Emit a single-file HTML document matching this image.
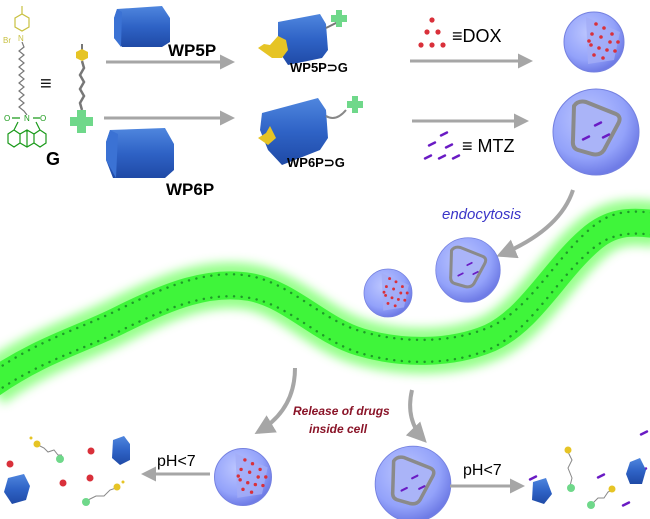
<!DOCTYPE html>
<html><head><meta charset="utf-8"><style>
html,body{margin:0;padding:0;background:#fff;}
svg{display:block;font-family:"Liberation Sans",Arial,sans-serif;}
</style></head><body>
<svg width="650" height="519" viewBox="0 0 650 519" xmlns="http://www.w3.org/2000/svg">
<defs>
<radialGradient id="sph" cx="40%" cy="35%" r="65%">
<stop offset="0" stop-color="#bcc6ff"/><stop offset="0.7" stop-color="#93a2fa"/><stop offset="1" stop-color="#6f7ce6"/>
</radialGradient>
<linearGradient id="cyl" x1="0" y1="0" x2="0" y2="1">
<stop offset="0" stop-color="#4f86de"/><stop offset="0.5" stop-color="#2f63c6"/><stop offset="1" stop-color="#1f4aa6"/>
</linearGradient>
<filter id="glow" x="-10%" y="-30%" width="120%" height="160%"><feGaussianBlur stdDeviation="5"/></filter>
<marker id="ah" viewBox="0 0 10 10" refX="8" refY="5" markerWidth="5" markerHeight="5" orient="auto"><path d="M0,0 L10,5 L0,10 z" fill="#a6a6a6"/></marker>
<g id="dox"><circle cx="0" cy="0" r="1.8" fill="#d9303a"/></g>
<g id="mtz"><line x1="-3" y1="1.5" x2="3" y2="-1.5" stroke="#6a1bc4" stroke-width="2.4" stroke-linecap="round"/></g>
<g id="doxsph">
<circle r="30" fill="url(#sph)" stroke="#7480e0" stroke-width="1"/>
<path d="M-8,-25 L26,-10 L20,18 L-6,22 Z" fill="#a3adf6" opacity="0.8"/>
<use href="#dox" x="2" y="-18"/><use href="#dox" x="10" y="-14"/><use href="#dox" x="18" y="-8"/><use href="#dox" x="-2" y="-8"/><use href="#dox" x="7" y="-5"/><use href="#dox" x="16" y="0"/><use href="#dox" x="24" y="0"/><use href="#dox" x="-3" y="3"/><use href="#dox" x="5" y="6"/><use href="#dox" x="13" y="8"/><use href="#dox" x="21" y="9"/><use href="#dox" x="0" y="13"/><use href="#dox" x="9" y="16"/><use href="#dox" x="-5" y="-1"/>
</g>
<g id="mtzsph">
<circle r="43" fill="url(#sph)" stroke="#7480e0" stroke-width="1"/>
<path d="M-22,-26 Q-18,-32 -10,-30 L20,-18 Q26,-15 22,-8 L8,18 Q4,24 -4,22 L-18,18 Q-24,16 -23,8 Z" fill="#aab4f8" stroke="#8a8a8a" stroke-width="4" stroke-linejoin="round"/>
<use href="#mtz" x="2" y="-8"/><use href="#mtz" x="-10" y="6"/><use href="#mtz" x="10" y="4"/>
</g>
</defs>

<!-- membrane -->
<g fill="none">
<path d="M-10,385 C40,350 80,340 120,320 C170,295 210,280 250,287 C290,294 320,330 360,342 C400,354 450,355 490,338 C530,320 555,270 590,240 C610,222 630,220 660,225" stroke="#7dff6e" stroke-width="46" filter="url(#glow)" opacity="0.8"/>
<path d="M-10,385 C40,350 80,340 120,320 C170,295 210,280 250,287 C290,294 320,330 360,342 C400,354 450,355 490,338 C530,320 555,270 590,240 C610,222 630,220 660,225" stroke="#3ff53a" stroke-width="28"/>
<path d="M-10,374 C40,339 80,329 120,309 C170,284 210,269 250,276 C290,283 320,319 360,331 C400,343 450,344 490,327 C530,309 555,259 590,229 C610,211 630,209 660,214" stroke="#1e9a28" stroke-width="2.4" stroke-linecap="round" stroke-dasharray="0.1 7.5"/>
<path d="M-10,396 C40,361 80,351 120,331 C170,306 210,291 250,298 C290,305 320,341 360,353 C400,365 450,366 490,349 C530,331 555,281 590,251 C610,233 630,231 660,236" stroke="#1e9a28" stroke-width="2.4" stroke-linecap="round" stroke-dasharray="0.1 7.5"/>
</g>

<!-- molecule G -->
<g fill="none" stroke-width="1.2">
<path d="M22,6 L22,14 M15,18 L22,14 L29,18 L29,27 L22,31 L15,27 Z" stroke="#c8c040"/>
<text x="3" y="43" font-size="8" fill="#c8c040" stroke="none">Br</text>
<text x="18" y="41" font-size="8" fill="#c8c040" stroke="none">N</text>
<path d="M22,42 L24,47 L19,51 L24,55 L19,59 L24,63 L19,67 L24,71 L19,75 L24,79 L19,83 L24,87 L19,91 L24,95 L19,99 L24,103 L19,107 L24,111 L27,115" stroke="#777"/>
<text x="24" y="121" font-size="8" fill="#1a9a1a" stroke="none">N</text>
<text x="4" y="121" font-size="8" fill="#1a9a1a" stroke="none">O</text>
<text x="40" y="121" font-size="8" fill="#1a9a1a" stroke="none">O</text>
<path d="M12,118 L20,118 M33,118 L40,118 M18,122 L14,130 L8,134 L8,143 L14,147 L20,143 L27,147 L34,143 L40,147 L46,143 L46,134 L40,130 L36,122 M14,130 L20,134 L27,130 L34,134 L40,130 M20,134 L20,143 M34,134 L34,143 M27,130 L27,147" stroke="#1a9a1a"/>
</g>
<text x="46" y="165" font-size="18" font-weight="bold" fill="#000">G</text>
<text x="40" y="90" font-size="20" fill="#111">≡</text>
<!-- cartoon G -->
<path d="M82,44 L82,50" stroke="#777" stroke-width="2"/>
<polygon points="76,52 82,49 88,52 88,58 82,61 76,58" fill="#e6c425"/>
<path d="M82,61 L84,68 L80,75 L84,82 L80,89 L84,96 L80,103 L82,110" fill="none" stroke="#777" stroke-width="2.5"/>
<path d="M77,110 h9 v7 h7 v9 h-7 v7 h-9 v-7 h-7 v-9 h7z" fill="#6fd88a"/>

<!-- arrows top -->
<line x1="106" y1="62" x2="232" y2="62" stroke="#a6a6a6" stroke-width="3" marker-end="url(#ah)"/>
<line x1="104" y1="118" x2="232" y2="118" stroke="#a6a6a6" stroke-width="3" marker-end="url(#ah)"/>
<line x1="410" y1="61" x2="530" y2="61" stroke="#a6a6a6" stroke-width="3" marker-end="url(#ah)"/>
<line x1="412" y1="121" x2="526" y2="121" stroke="#a6a6a6" stroke-width="3" marker-end="url(#ah)"/>

<!-- WP5P cylinder -->
<polygon points="117,9 162,6 170,18 170,42 162,47 122,47 114,38 114,18" fill="url(#cyl)"/>
<polygon points="114,18 117,9 122,12 121,47 114,38" fill="#3b72d4"/>
<text x="168" y="56" font-size="17" font-weight="bold">WP5P</text>
<!-- WP6P cylinder -->
<polygon points="110,130 165,128 174,144 174,170 165,178 113,178 106,160 106,142" fill="url(#cyl)"/>
<polygon points="106,142 110,130 118,134 116,178 106,160" fill="#3b72d4"/>
<text x="166" y="195" font-size="17" font-weight="bold">WP6P</text>

<!-- WP5P⊃G -->
<polygon points="278,22 320,14 326,24 328,50 322,58 288,65 282,56 278,38" fill="url(#cyl)"/>
<polygon points="258,48 264,44 270,45 278,36 286,40 288,50 282,58 272,58" fill="#e6c425"/>
<path d="M326,28 L338,22" stroke="#777" stroke-width="2"/>
<path d="M336,10 h6 v5 h5 v7 h-5 v5 h-6 v-5 h-5 v-7 h5z" fill="#6fd88a"/>
<text x="290" y="72" font-size="13" font-weight="bold">WP5P⊃G</text>
<!-- WP6P⊃G -->
<polygon points="262,113 318,98 326,110 328,138 320,150 282,165 268,150 260,130" fill="url(#cyl)"/>
<polygon points="258,138 266,133 270,126 276,138 268,145" fill="#e6c425"/>
<path d="M326,116 Q336,122 346,110" fill="none" stroke="#888" stroke-width="2"/>
<path d="M352,96 h6 v5 h5 v7 h-5 v5 h-6 v-5 h-5 v-7 h5z" fill="#6fd88a"/>
<text x="287" y="167" font-size="13" font-weight="bold">WP6P⊃G</text>

<!-- DOX / MTZ legend -->
<circle cx="432" cy="20" r="2.6" fill="#d9303a"/>
<circle cx="427" cy="32" r="2.6" fill="#d9303a"/><circle cx="438" cy="32" r="2.6" fill="#d9303a"/>
<circle cx="421" cy="45" r="2.6" fill="#d9303a"/><circle cx="432" cy="45" r="2.6" fill="#d9303a"/><circle cx="443" cy="45" r="2.6" fill="#d9303a"/>
<text x="452" y="42" font-size="18">≡DOX</text>
<g transform="translate(325,0)">
<use href="#mtz" x="119" y="134"/><use href="#mtz" x="107" y="144"/><use href="#mtz" x="124" y="146"/><use href="#mtz" x="103" y="157"/><use href="#mtz" x="117" y="157"/><use href="#mtz" x="131" y="157"/>
</g>
<text x="462" y="152" font-size="18">≡ MTZ</text>

<!-- spheres top right -->
<use href="#doxsph" transform="translate(594,42)"/>
<use href="#mtzsph" transform="translate(596,132)"/>

<!-- endocytosis -->
<path d="M573,190 Q560,230 500,255" fill="none" stroke="#a6a6a6" stroke-width="4" marker-end="url(#ah)"/>
<text x="442" y="219" font-size="15" font-style="italic" fill="#3a35c8">endocytosis</text>
<use href="#doxsph" transform="translate(388,293) scale(0.8)"/>
<use href="#mtzsph" transform="translate(468,270) scale(0.75)"/>

<!-- release arrows -->
<path d="M295,368 Q295,410 258,432" fill="none" stroke="#a6a6a6" stroke-width="4" marker-end="url(#ah)"/>
<path d="M412,390 Q405,420 424,440" fill="none" stroke="#a6a6a6" stroke-width="4" marker-end="url(#ah)"/>
<text x="293" y="415" font-size="12" font-weight="bold" font-style="italic" fill="#8a1428">Release of drugs</text>
<text x="309" y="433" font-size="12" font-weight="bold" font-style="italic" fill="#8a1428">inside cell</text>

<use href="#doxsph" transform="translate(243,477) scale(0.95)"/>
<use href="#mtzsph" transform="translate(413,484) scale(0.88)"/>

<line x1="210" y1="474" x2="144" y2="474" stroke="#a6a6a6" stroke-width="3" marker-end="url(#ah)"/>
<text x="157" y="466" font-size="16">pH&lt;7</text>
<line x1="450" y1="486" x2="522" y2="486" stroke="#a6a6a6" stroke-width="3" marker-end="url(#ah)"/>
<text x="463" y="475" font-size="16">pH&lt;7</text>

<!-- released bottom-left -->
<circle cx="10" cy="464" r="3.5" fill="#d9303a"/><circle cx="91" cy="451" r="3.5" fill="#d9303a"/><circle cx="63" cy="483" r="3.5" fill="#d9303a"/><circle cx="90" cy="478" r="3.5" fill="#d9303a"/>
<polygon points="8,478 24,474 30,486 26,500 12,504 4,492" fill="url(#cyl)"/>
<polygon points="113,440 124,436 130,444 130,460 120,465 112,458" fill="url(#cyl)"/>
<g fill="none" stroke="#888" stroke-width="1"><path d="M36,444 L44,448 L48,452 L54,450 L58,455 L62,455"/><path d="M88,500 L96,496 L104,496 L110,490 L116,488"/></g>
<circle cx="37" cy="444" r="3.5" fill="#e6c425"/><circle cx="31" cy="438" r="1.5" fill="#e6c425"/><circle cx="60" cy="459" r="4" fill="#6fd88a"/>
<circle cx="117" cy="487" r="3.5" fill="#e6c425"/><circle cx="123" cy="482" r="1.5" fill="#e6c425"/><circle cx="86" cy="502" r="4" fill="#6fd88a"/>

<!-- released bottom-right -->
<use href="#mtz" x="533" y="478"/><use href="#mtz" x="601" y="476"/><use href="#mtz" x="643" y="470"/><use href="#mtz" x="626" y="504"/><use href="#mtz" x="644" y="433"/>
<polygon points="533,482 546,478 552,494 544,504 532,500" fill="url(#cyl)"/>
<polygon points="630,462 640,458 646,470 642,484 630,484 626,474" fill="url(#cyl)"/>
<g fill="none" stroke="#888" stroke-width="1"><path d="M568,452 L572,460 L568,468 L572,478 L570,486"/><path d="M592,504 L598,498 L604,498 L608,492 L612,490"/></g>
<circle cx="568" cy="450" r="3.5" fill="#e6c425"/><circle cx="571" cy="488" r="4" fill="#6fd88a"/>
<circle cx="612" cy="489" r="3.5" fill="#e6c425"/><circle cx="591" cy="505" r="4" fill="#6fd88a"/>
</svg>
</body></html>
